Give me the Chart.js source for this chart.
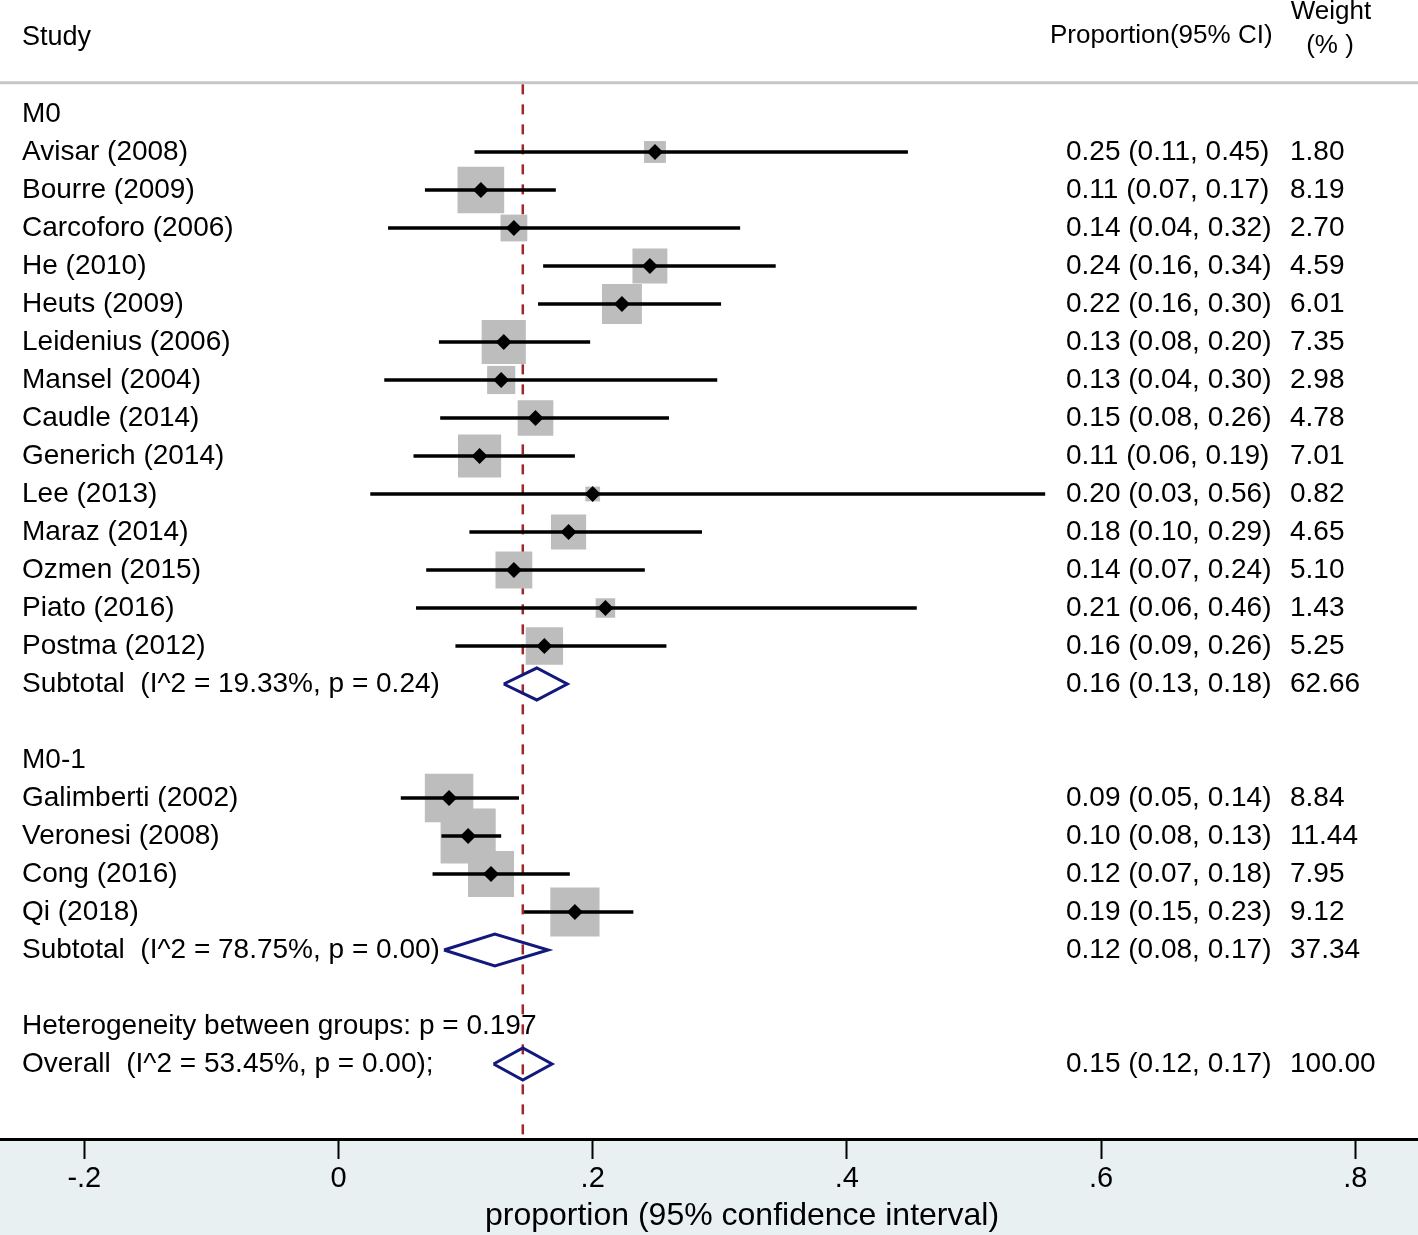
<!DOCTYPE html>
<html>
<head>
    <title>Forest plot - proportion (95% CI)</title>
    <script src="https://cdn.jsdelivr.net/npm/chart.js"></script>
    <style>
        body { margin: 0; background: #fff; }
    </style>
</head>
<body>
    <canvas id="forest" width="1418" height="1235"></canvas>

<script>
// ---- data ---------------------------------------------------------------------
const studyNames = ['Avisar (2008)', 'Bourre (2009)', 'Carcoforo (2006)', 'He (2010)', 'Heuts (2009)',
    'Leidenius (2006)', 'Mansel (2004)', 'Caudle (2014)', 'Generich (2014)', 'Lee (2013)', 'Maraz (2014)',
    'Ozmen (2015)', 'Piato (2016)', 'Postma (2012)',
    'Galimberti (2002)', 'Veronesi (2008)', 'Cong (2016)', 'Qi (2018)'];
const studyRows = [1, 2, 3, 4, 5, 6, 7, 8, 9, 10, 11, 12, 13, 14, 18, 19, 20, 21];
const studyEst   = [0.249, 0.112, 0.138, 0.245, 0.223, 0.130, 0.128, 0.155, 0.111, 0.200, 0.181, 0.138, 0.210, 0.162, 0.087, 0.102, 0.120, 0.186];
const studyLower = [0.107, 0.068, 0.039, 0.161, 0.157, 0.079, 0.036, 0.080, 0.059, 0.025, 0.103, 0.069, 0.061, 0.092, 0.049, 0.081, 0.074, 0.146];
const studyUpper = [0.448, 0.171, 0.316, 0.344, 0.301, 0.198, 0.298, 0.260, 0.186, 0.556, 0.286, 0.241, 0.455, 0.258, 0.142, 0.128, 0.182, 0.232];
const studyWeights = [1.80, 8.19, 2.70, 4.59, 6.01, 7.35, 2.98, 4.78, 7.01, 0.82, 4.65, 5.10, 1.43, 5.25, 8.84, 11.44, 7.95, 9.12];
const studyCiText = ['0.25 (0.11, 0.45)', '0.11 (0.07, 0.17)', '0.14 (0.04, 0.32)', '0.24 (0.16, 0.34)',
    '0.22 (0.16, 0.30)', '0.13 (0.08, 0.20)', '0.13 (0.04, 0.30)', '0.15 (0.08, 0.26)', '0.11 (0.06, 0.19)',
    '0.20 (0.03, 0.56)', '0.18 (0.10, 0.29)', '0.14 (0.07, 0.24)', '0.21 (0.06, 0.46)', '0.16 (0.09, 0.26)',
    '0.09 (0.05, 0.14)', '0.10 (0.08, 0.13)', '0.12 (0.07, 0.18)', '0.19 (0.15, 0.23)'];
const studyWeightText = ['1.80', '8.19', '2.70', '4.59', '6.01', '7.35', '2.98', '4.78', '7.01', '0.82',
    '4.65', '5.10', '1.43', '5.25', '8.84', '11.44', '7.95', '9.12'];

// pooled estimates (subtotals + overall)
const summaryNames = ['Subtotal  (I^2 = 19.33%, p = 0.24)', 'Subtotal  (I^2 = 78.75%, p = 0.00)', 'Overall  (I^2 = 53.45%, p = 0.00);'];
const summaryRows  = [15, 22, 25];
const summaryEst   = [0.156, 0.123, 0.145];
const summaryLower = [0.130, 0.083, 0.122];
const summaryUpper = [0.180, 0.165, 0.168];
const summaryCiText = ['0.16 (0.13, 0.18)', '0.12 (0.08, 0.17)', '0.15 (0.12, 0.17)'];
const summaryWeightText = ['62.66', '37.34', '100.00'];

const groupLabels = ['M0', 'M0-1'];
const groupRows = [0, 17];
const noteText = 'Heterogeneity between groups: p = 0.197';
const noteRow = 24;

const xTicks = [-0.2, 0, 0.2, 0.4, 0.6, 0.8];
const xTitle = 'proportion (95% confidence interval)';
const overallEst = summaryEst[2];

// ---- datasets --------------------------------------------------------------------
const FONT = '"Liberation Sans", Arial, sans-serif';
const ROW_PX = 38;
const AXIS_H = 96;
const DIAMOND_HALF = 0.42; // in row units

// CI whiskers, one dataset broken with null points
const ciPoints = [];
studyRows.forEach((r, i) => {
    ciPoints.push({x: studyLower[i], y: r}, {x: studyUpper[i], y: r}, {x: null, y: null});
});

// pooled diamonds
const diamondPoints = [];
summaryRows.forEach((r, i) => {
    diamondPoints.push(
        {x: summaryLower[i], y: r},
        {x: summaryEst[i], y: r - DIAMOND_HALF},
        {x: summaryUpper[i], y: r},
        {x: summaryEst[i], y: r + DIAMOND_HALF},
        {x: summaryLower[i], y: r},
        {x: null, y: null});
});

const estPoints = studyRows.map((r, i) => ({x: studyEst[i], y: r}));

// draws white page, grey band under the axis and the header rule
const backgroundPlugin = {
    id: 'background',
    beforeDraw(chart) {
        const {ctx, chartArea} = chart;
        ctx.save();
        ctx.fillStyle = '#ffffff';
        ctx.fillRect(0, 0, chart.width, chart.height);
        ctx.fillStyle = '#e8f0f2';
        ctx.fillRect(0, chartArea.bottom, chart.width, chart.height - chartArea.bottom);
        // header rule
        const yRule = chart.scales.y.getPixelForValue(-0.82);
        ctx.strokeStyle = '#c6c6c6';
        ctx.lineWidth = 3;
        ctx.beginPath();
        ctx.moveTo(0, yRule);
        ctx.lineTo(chart.width, yRule);
        ctx.stroke();
        ctx.restore();
    }
};

// the text columns of the forest plot
const textPlugin = {
    id: 'forestText',
    afterDatasetsDraw(chart) {
        const {ctx} = chart;
        const y = chart.scales.y;
        ctx.save();
        ctx.fillStyle = '#000';
        ctx.textBaseline = 'middle';
        ctx.textAlign = 'left';

        // header
        ctx.font = '27px ' + FONT;
        ctx.fillText('Study', 22, y.getPixelForValue(-2));
        ctx.font = '26px ' + FONT;
        ctx.fillText('Proportion(95% CI)', 1050, y.getPixelForValue(-2.05));
        ctx.textAlign = 'center';
        ctx.fillText('Weight', 1331, y.getPixelForValue(-2.68));
        ctx.fillText('(% )', 1330, y.getPixelForValue(-1.8));

        ctx.font = '28px ' + FONT;
        ctx.textAlign = 'left';
        groupRows.forEach((r, i) => ctx.fillText(groupLabels[i], 22, y.getPixelForValue(r)));
        studyRows.forEach((r, i) => {
            const py = y.getPixelForValue(r);
            ctx.fillText(studyNames[i], 22, py);
            ctx.fillText(studyCiText[i], 1066, py);
            ctx.fillText(studyWeightText[i], 1290, py);
        });
        summaryRows.forEach((r, i) => {
            const py = y.getPixelForValue(r);
            ctx.fillText(summaryNames[i], 22, py);
            ctx.fillText(summaryCiText[i], 1066, py);
            ctx.fillText(summaryWeightText[i], 1290, py);
        });
        ctx.fillText(noteText, 22, y.getPixelForValue(noteRow));

        // x axis title sits a little right of the canvas centre
        ctx.font = '32px ' + FONT;
        ctx.textAlign = 'center';
        ctx.fillText(xTitle, 742, chart.height - 19);
        ctx.restore();
    }
};

new Chart(document.getElementById('forest').getContext('2d'), {
    type: 'scatter',
    data: {
        datasets: [
            {   // reference line at the overall estimate
                data: [{x: overallEst, y: -0.78}, {x: overallEst, y: 30}],
                showLine: true,
                borderColor: '#a0262e',
                borderWidth: 2.5,
                borderDash: [10, 10],
                pointRadius: 0,
                order: 5
            },
            {   // weight boxes
                data: estPoints,
                pointStyle: 'rect',
                pointRadius: ctx => 16.3 * Math.sqrt(studyWeights[ctx.dataIndex]) / Math.SQRT2,
                backgroundColor: '#bdbdbd',
                borderWidth: 0,
                order: 4
            },
            {   // confidence intervals
                data: ciPoints,
                showLine: true,
                spanGaps: false,
                borderColor: '#000',
                borderWidth: 3.5,
                pointRadius: 0,
                order: 3
            },
            {   // point estimates
                data: estPoints,
                pointStyle: 'rectRot',
                pointRadius: 8,
                backgroundColor: '#000',
                borderWidth: 0,
                order: 2
            },
            {   // pooled diamonds
                data: diamondPoints,
                showLine: true,
                spanGaps: false,
                borderColor: '#12197a',
                borderWidth: 3,
                borderJoinStyle: 'miter',
                pointRadius: 0,
                order: 1
            }
        ]
    },
    options: {
        responsive: false,
        animation: false,
        events: [],
        layout: { padding: 0, autoPadding: false },
        plugins: {
            legend: { display: false },
            tooltip: { enabled: false }
        },
        scales: {
            x: {
                type: 'linear',
                min: -338.5 / 1271,
                max: (1418 - 338.5) / 1271,
                afterBuildTicks: scale => { scale.ticks = xTicks.map(v => ({value: v})); },
                afterFit: scale => {
                    scale.height = AXIS_H;
                    scale.paddingLeft = 0;
                    scale.paddingRight = 0;
                },
                border: { display: true, color: '#000', width: 3 },
                grid: { display: true, drawOnChartArea: false, drawTicks: true, tickLength: 20, tickWidth: 2, tickColor: '#000' },
                ticks: {
                    autoSkip: false,
                    maxRotation: 0,
                    padding: 3,
                    color: '#000',
                    font: { family: FONT, size: 29 },
                    callback: v => v === 0 ? '0' : String(Math.round(v * 10) / 10).replace('0.', '.')
                },
                title: { display: false }
            },
            y: {
                type: 'linear',
                display: false,
                reverse: true,
                min: -3,
                max: (1235 - AXIS_H) / ROW_PX - 3
            }
        }
    },
    plugins: [backgroundPlugin, textPlugin]
});
</script>
</body>
</html>
